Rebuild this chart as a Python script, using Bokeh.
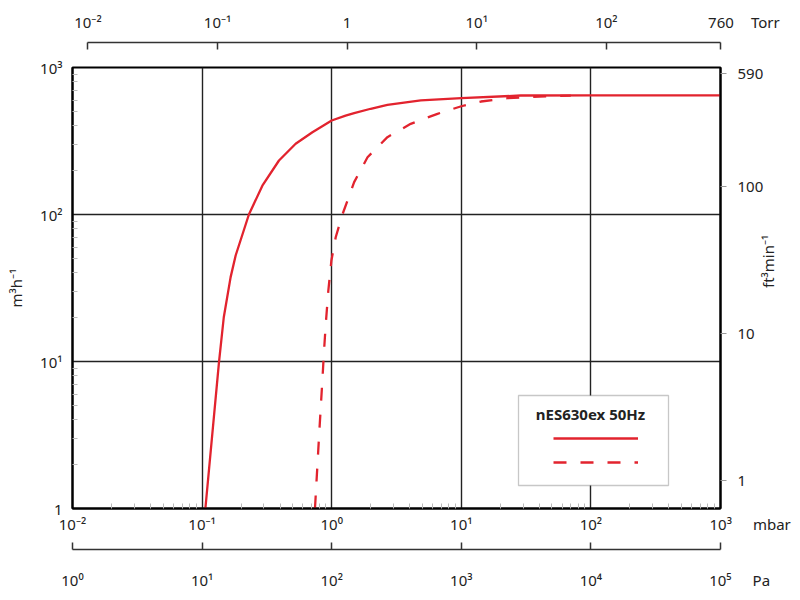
import math
from bokeh.plotting import figure
from bokeh.models import (LogAxis, LinearAxis, Range1d, FixedTicker, Legend, LegendItem,
                          Label, BoxAnnotation, LinearScale)
from bokeh.embed import file_html
from bokeh.resources import INLINE

# ---- data (pressure in mbar, pumping speed in m3/h) ----
solid_p = [0.106, 0.135, 0.147, 0.166, 0.1815, 0.2297, 0.2917, 0.392, 0.527, 0.71,
           1.0, 1.28, 1.49, 2.0, 2.69, 4.87, 10, 28.8, 100, 1000]
solid_s = [1, 9.9, 20, 37.5, 52.6, 100, 157, 233, 303, 363,
           436, 471, 490, 524, 557, 597, 618, 645, 646, 646]

dash_p = [0.743, 0.798, 0.847, 0.873, 0.90, 0.942, 0.995, 1.074, 1.21, 1.49, 1.89, 2.69,
          4.07, 6.55, 10, 14.2, 22.7, 40, 70]
dash_s = [1, 3.06, 7.43, 11.9, 18, 30.4, 48.7, 70, 100, 166, 245, 336,
          414, 484, 545, 587, 618, 635, 643]

mbar_ticks = [0.01, 0.1, 1, 10, 100, 1000]
mbar_labels = ["10⁻²", "10⁻¹", "10⁰", "10¹", "10²", "10³"]
torr_ticks = [0.01, 0.1, 1, 10, 100, 760]
torr_labels = ["10⁻²", "10⁻¹", "1", "10¹", "10²", "760"]
pa_ticks = [1, 10, 100, 1000, 10000, 100000]
pa_labels = ["10⁰", "10¹", "10²", "10³", "10⁴", "10⁵"]
m3h_ticks = [1, 10, 100, 1000]
m3h_labels = ["1", "10¹", "10²", "10³"]
cfm_ticks = [1, 10, 100, 590]
cfm_labels = ["1", "10", "100", "590"]
legend_title = "nES630ex 50Hz"
unit_torr, unit_mbar, unit_pa = "Torr", "mbar", "Pa"
y_title, y2_title = "m³h⁻¹", "ft³min⁻¹"

FONT = "Noto Sans"
RED = "#e2232e"
TXT = "#222222"
AX = "#333333"

FIG, NB = "\u2007", "\u00a0"   # figure space / no-break space (not collapsed in SVG)


def with_unit(label, unit, left_pad, gap):
    """Last tick label followed by the unit name; the left padding keeps the
    number itself centred on its tick."""
    return left_pad + label + gap + unit


torr_labels_u = torr_labels[:-1] + [with_unit(torr_labels[-1], unit_torr,
                                              FIG * 5 + NB, FIG * 2)]
mbar_labels_u = mbar_labels[:-1] + [with_unit(mbar_labels[-1], unit_mbar,
                                              FIG * 6 + NB * 2, FIG * 2 + NB)]
pa_labels_u = pa_labels[:-1] + [with_unit(pa_labels[-1], unit_pa,
                                          FIG * 4 + NB, FIG * 2 + NB)]

FW, FH = 648, 441          # frame size in pixels

p = figure(width=792, height=592, x_axis_type="log", y_axis_type="log",
           x_range=Range1d(1e-2, 1e3), y_range=Range1d(1, 1e3),
           output_backend="svg", toolbar_location=None, title_location=None,
           min_border_left=72, min_border_right=72, min_border_top=67, min_border_bottom=84)
p.background_fill_color = "white"
p.border_fill_color = "white"
p.outline_line_color = "black"
p.outline_line_width = 2

p.extra_x_ranges = {"torr": Range1d(0.0076, 760), "pa": Range1d(1, 1e5),
                    "px": Range1d(0, FW)}
p.extra_x_scales = {"px": LinearScale()}
p.extra_y_ranges = {"cfm": Range1d(0.65, 650)}

minor_x = [m * 10.0 ** d for d in range(-2, 3) for m in range(2, 10)]
minor_y = [m * 10.0 ** d for d in range(0, 3) for m in range(2, 10)]


def style_labels(ax, size="15px"):
    ax.major_label_text_font = FONT
    ax.major_label_text_font_size = size
    ax.major_label_text_color = TXT


# main bottom axis (mbar)
xa = p.xaxis[0]
xa.ticker = FixedTicker(ticks=mbar_ticks, minor_ticks=minor_x)
xa.major_label_overrides = dict(zip(mbar_ticks, mbar_labels_u))
xa.major_tick_in = 0
xa.major_tick_out = 0
xa.minor_tick_in = 5
xa.minor_tick_out = 0
xa.minor_tick_line_color = "#bbbbbb"
xa.axis_line_color = "black"
xa.axis_line_width = 2
xa.major_label_standoff = 5
style_labels(xa)

# main left axis (m3/h)
ya = p.yaxis[0]
ya.ticker = FixedTicker(ticks=m3h_ticks, minor_ticks=minor_y)
ya.major_label_overrides = dict(zip(m3h_ticks, m3h_labels))
ya.major_tick_in = 0
ya.major_tick_out = 0
ya.minor_tick_in = 5
ya.minor_tick_out = 0
ya.minor_tick_line_color = "#bbbbbb"
ya.axis_line_color = "black"
ya.axis_line_width = 2
ya.major_label_standoff = 10
ya.axis_label = y_title
ya.axis_label_text_font = FONT
ya.axis_label_text_font_size = "15px"
ya.axis_label_text_font_style = "normal"
ya.axis_label_text_color = TXT
ya.axis_label_standoff = 11
style_labels(ya)

p.xgrid.ticker = FixedTicker(ticks=[0.1, 1, 10, 100])
p.ygrid.ticker = FixedTicker(ticks=[10, 100])
for g in (p.xgrid[0], p.ygrid[0]):
    g.grid_line_color = "#222222"
    g.grid_line_width = 1.4


def spacer(size):
    """Invisible axis band that only occupies `size` pixels."""
    return LinearAxis(x_range_name="px", ticker=FixedTicker(ticks=[FW / 2]),
                      bounds=(0, FW), major_tick_in=0, major_tick_out=size,
                      major_tick_line_color=None, minor_tick_in=0, minor_tick_out=0,
                      axis_line_color=None, major_label_text_color=None,
                      major_label_standoff=0)


def scale_axis(range_name, ticks, labels, standoff, bounds="auto"):
    ax = LogAxis(x_range_name=range_name, ticker=FixedTicker(ticks=ticks),
                 major_label_overrides=dict(zip(ticks, labels)), bounds=bounds,
                 major_tick_in=7, major_tick_out=0, minor_tick_in=0, minor_tick_out=0,
                 axis_line_color=AX, axis_line_width=1.5,
                 major_tick_line_color=AX, major_tick_line_width=1.5,
                 major_label_standoff=standoff)
    style_labels(ax)
    return ax


# above: gap, then the Torr scale
p.add_layout(spacer(25), "above")
p.add_layout(scale_axis("torr", torr_ticks, torr_labels_u, 11, bounds=(0.01, 760)), "above")

# below: mbar labels (main axis), gap, then the Pa scale
p.add_layout(spacer(13), "below")
p.add_layout(scale_axis("pa", pa_ticks, pa_labels_u, 20), "below")

# right axis (ft3/min)
ra = LogAxis(y_range_name="cfm", ticker=FixedTicker(ticks=cfm_ticks),
             major_label_overrides=dict(zip(cfm_ticks, cfm_labels)),
             major_tick_in=0, major_tick_out=6, minor_tick_in=0, minor_tick_out=0,
             major_tick_line_color="#999999", axis_line_color="black", axis_line_width=2,
             major_label_standoff=11, axis_label=y2_title,
             axis_label_text_font=FONT, axis_label_text_font_size="15px",
             axis_label_text_font_style="normal", axis_label_text_color=TXT,
             axis_label_standoff=2)
if "axis_label_orientation" in LogAxis.properties():
    ra.axis_label_orientation = math.pi / 2
style_labels(ra)
p.add_layout(ra, "right")

# curves
r1 = p.line(solid_p, solid_s, line_color=RED, line_width=2.3)
r2 = p.line(dash_p, dash_s, line_color=RED, line_width=2.3, line_dash="13 14")

# legend box
box = BoxAnnotation(left=446, right=596, bottom=23, top=113, left_units="screen",
                    right_units="screen", bottom_units="screen", top_units="screen",
                    fill_color="white", fill_alpha=1.0, line_color="#444444",
                    line_width=1.3)
p.add_layout(box)
p.add_layout(Label(x=518, y=95, x_units="screen", y_units="screen", text=legend_title,
                   text_font=FONT, text_font_size="15px", text_font_style="bold",
                   text_color=TXT, text_baseline="middle", text_align="center"))
leg = Legend(items=[LegendItem(label=" ", renderers=[r1]),
                    LegendItem(label=" ", renderers=[r2])],
             location=(481, 36), padding=0, spacing=4, glyph_width=85, glyph_height=20,
             label_width=0, label_standoff=0, label_text_font_size="2px",
             border_line_color=None, background_fill_alpha=0, margin=0)
p.add_layout(leg)

open("out.html", "w").write(file_html(p, INLINE))
